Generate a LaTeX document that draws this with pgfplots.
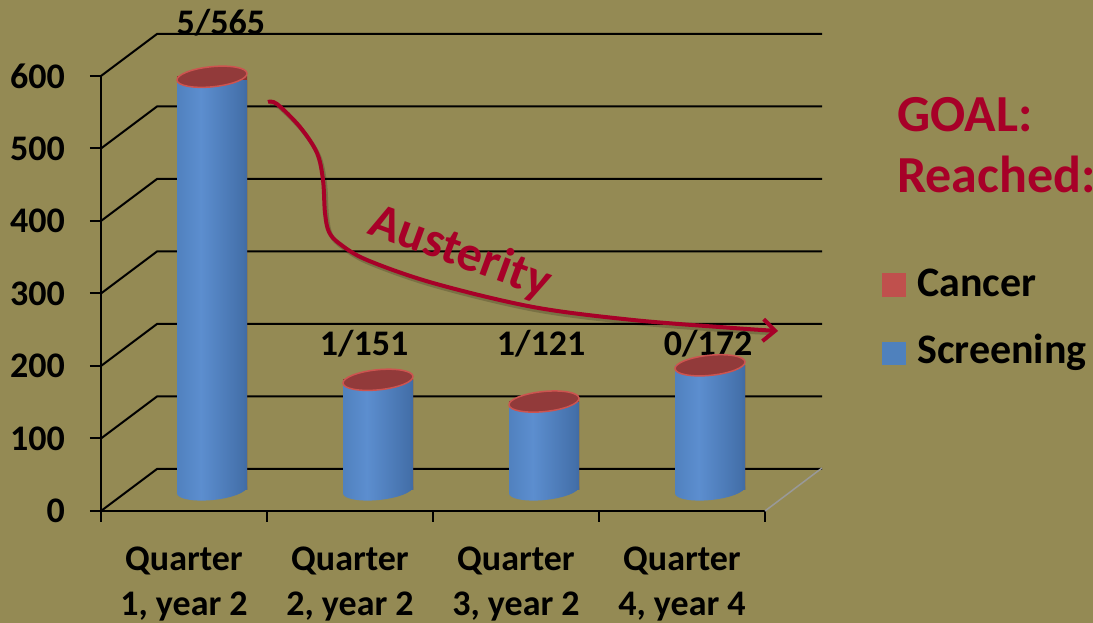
\documentclass[border=0pt]{standalone}
\usepackage{pgfplots}
\pgfplotsset{compat=1.18}
\usepackage{pgfplotstable}
\usepackage{fontspec}
\setmainfont{Carlito}
\usetikzlibrary{arrows.meta}

\definecolor{bg}{RGB}{148,138,84}
\definecolor{goalred}{RGB}{167,0,40}
\definecolor{bl0}{RGB}{42,74,122}
\definecolor{bl1}{RGB}{76,124,184}
\definecolor{bl2}{RGB}{92,142,207}
\definecolor{bl3}{RGB}{68,112,170}
\definecolor{bl4}{RGB}{36,62,104}
\definecolor{rd0}{RGB}{120,40,40}
\definecolor{rd1}{RGB}{175,66,64}
\definecolor{rd2}{RGB}{110,36,36}
\definecolor{capred}{RGB}{146,58,58}
\definecolor{caprim}{RGB}{205,84,80}
\definecolor{legred}{RGB}{192,80,77}
\definecolor{legblue}{RGB}{79,129,189}

\pgfdeclarehorizontalshading{cylblue}{100bp}{color(0bp)=(bl0); color(18bp)=(bl1); color(42bp)=(bl2); color(72bp)=(bl3); color(100bp)=(bl4)}
\pgfdeclarehorizontalshading{cylred}{100bp}{color(0bp)=(rd0); color(42bp)=(rd1); color(100bp)=(rd2)}

\pgfdeclareplotmark{cylcap}{%
  \pgfpathellipse{\pgfpointorigin}{\pgfpoint{35pt}{3.5pt}}{\pgfpoint{-1pt}{10pt}}%
  \pgfusepathqfillstroke}
\pgfdeclareplotmark{cylbase}{%
  \pgfpathmoveto{\pgfpoint{-35pt}{-3.5pt}}%
  \pgfpatharcaxes{180}{360}{\pgfpoint{35pt}{3.5pt}}{\pgfpoint{-1pt}{10pt}}%
  \pgfpathlineto{\pgfpoint{35pt}{0.5pt}}%
  \pgfpathlineto{\pgfpoint{-35pt}{0.5pt}}%
  \pgfpathclose
  \pgfshadepath{cylblue}{0}\pgfusepath{}}

\pgfplotstableread{
x   screening cancer
0.5 565 5
1.5 151 1
2.5 121 1
3.5 172 0
}\datatable

\begin{document}
\begin{tikzpicture}
\path[use as bounding box] (0pt,0pt) rectangle (1093pt,623pt);
\fill[bg] (0pt,0pt) rectangle (1093pt,623pt);

% front plane axis: ticks, labels, walls
\begin{axis}[
  at={(101pt,112pt)}, anchor=south west,
  scale only axis, width=664pt, height=435pt,
  xmin=0, xmax=4, ymin=0, ymax=600,
  axis x line*=bottom, axis y line*=left,
  axis line style={line width=2pt, black},
  xtick={0,1,2,3,4}, xticklabels={},
  ytick={0,100,...,600},
  tick align=outside, major tick length=11pt,
  tick style={line width=2pt, black},
  /pgf/number format/assume math mode=true,
  ticklabel style={font=\bfseries\fontsize{36}{45}\selectfont},
  yticklabel style={anchor=east, inner sep=0pt, xshift=-25pt},
  extra x ticks={0.5,1.5,2.5,3.5},
  extra x tick labels={{Quarter\\1, year 2},{Quarter\\2, year 2},{Quarter\\3, year 2},{Quarter\\4, year 4}},
  extra x tick style={major tick length=0pt, xticklabel style={align=center, anchor=north, inner sep=0pt, yshift=-36pt}},
  clip=false,
]
\pgfplotsinvokeforeach{0,100,...,600}{
  \draw[line width=2pt] (axis cs:0,#1) -- ++(56pt,42pt) -- ++(665pt,0pt);
}
\draw[line width=1.5pt, gray!80] (axis cs:4,0) -- ++(57pt,43pt);
\end{axis}

% bar plane (middle depth)
\begin{axis}[
  at={(129pt,133pt)}, anchor=south west,
  scale only axis, width=664pt, height=435pt,
  xmin=0, xmax=4, ymin=0, ymax=600,
  hide axis, clip=false,
]
\pgfplotsinvokeforeach{0,1,2,3}{
\addplot[only marks, mark=cylbase, restrict expr to domain={\coordindex}{#1:#1}] table[x=x, y expr=0] {\datatable};
\addplot[ybar, bar width=70pt, bar shift=0pt, draw=none, shade, shading=cylred, restrict expr to domain={\coordindex}{#1:#1}] table[x=x, y expr=\thisrow{screening}+\thisrow{cancer}] {\datatable};
\addplot[ybar, bar width=70pt, bar shift=0pt, draw=none, shade, shading=cylblue, restrict expr to domain={\coordindex}{#1:#1}] table[x=x, y=screening] {\datatable};
\addplot[only marks, mark=cylcap, mark options={fill=capred, draw=caprim, line width=1.5pt}, restrict expr to domain={\coordindex}{#1:#1}] table[x=x, y expr=\thisrow{screening}+\thisrow{cancer}] {\datatable};
}
\node[anchor=base, inner sep=0pt, font=\bfseries\fontsize{36}{40}\selectfont] at (axis cs:0.554,628) {5/565};
\node[anchor=base, inner sep=0pt, font=\bfseries\fontsize{36}{40}\selectfont] at (axis cs:1.416,186) {1/151};
\node[anchor=base, inner sep=0pt, font=\bfseries\fontsize{36}{40}\selectfont] at (axis cs:2.482,186) {1/121};
\node[anchor=base, inner sep=0pt, font=\bfseries\fontsize{36}{40}\selectfont] at (axis cs:3.488,186) {0/172};
\end{axis}

% Austerity arrow
\draw[line width=4pt, black, opacity=0.18, shift={(2pt,-3pt)}] plot[smooth, tension=0.55] coordinates {
 (268pt,521pt) (277pt,519pt) (300pt,496pt) (317pt,470pt) (323pt,443pt) (325pt,410pt) (329pt,391pt)
 (340pt,379pt) (367pt,363pt) (433pt,340pt) (533pt,316pt) (633pt,303pt) (733pt,295pt) (770pt,293pt)};
\draw[line width=4pt, goalred, -{Straight Barb[length=12pt, width=22pt]}] plot[smooth, tension=0.55] coordinates {
 (268pt,521pt) (277pt,519pt) (300pt,496pt) (317pt,470pt) (323pt,443pt) (325pt,410pt) (329pt,391pt)
 (340pt,379pt) (367pt,363pt) (433pt,340pt) (533pt,316pt) (633pt,303pt) (733pt,295pt) (778pt,292pt)};
\node[rotate=-20, text=goalred, font=\bfseries\fontsize{50}{54}\selectfont] at (460pt,370pt) {Austerity};

% Goal text
\node[anchor=base west, inner sep=0pt, text=goalred, font=\bfseries\fontsize{52}{60}\selectfont] at (897pt,491pt) {GOAL:};
\node[anchor=base west, inner sep=0pt, text=goalred, font=\bfseries\fontsize{52}{60}\selectfont] at (897pt,430pt) {Reached:};

% legend
\fill[legred] (882pt,326pt) rectangle (906pt,350pt);
\node[anchor=base west, inner sep=0pt, font=\bfseries\fontsize{42}{50}\selectfont] at (917pt,326pt) {Cancer};
\fill[legblue] (882pt,258pt) rectangle (906pt,281pt);
\node[anchor=base west, inner sep=0pt, font=\bfseries\fontsize{42}{50}\selectfont] at (917pt,259pt) {Screening};
\end{tikzpicture}
\end{document}
